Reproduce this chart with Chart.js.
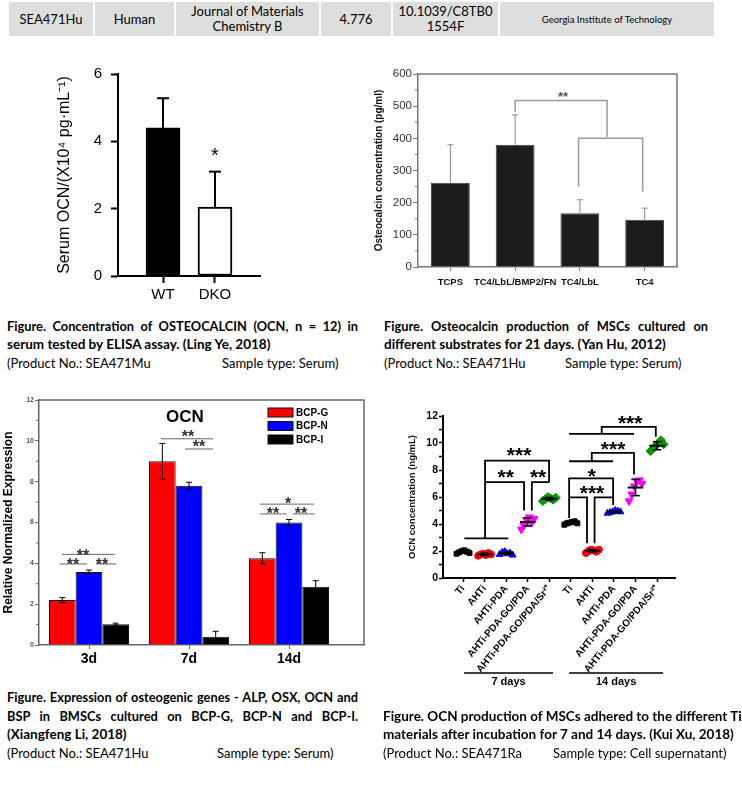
<!DOCTYPE html>
<html>
<head>
<meta charset="utf-8">
<script src="https://cdn.jsdelivr.net/npm/chart.js@4.4.0/dist/chart.umd.min.js"></script>
<style>
  body { margin: 0; width: 742px; height: 788px; position: relative; background: #fff; overflow: hidden; font-family: Lato, "Open Sans", sans-serif; color: #000; }
  .tbl { position: absolute; left: 9px; top: 2px; height: 34px; display: flex; }
  .tbl div { background: #dedede; margin-right: 2px; display: flex; align-items: center; justify-content: center; text-align: center; font-size: 13px; line-height: 15px; }
  .box { position: absolute; }
  .cap { position: absolute; font-size: 13px; line-height: 16px; white-space: nowrap; }
  .b { font-weight: bold; font-size: 13.5px; }
  .just { text-align: justify; text-align-last: justify; white-space: normal; font-size: 12.8px; height: 16px; }
</style>
</head>
<body>

<div class="tbl">
  <div style="width:84px">SEA471Hu</div>
  <div style="width:79px">Human</div>
  <div style="width:143px">Journal of Materials<br>Chemistry B</div>
  <div style="width:70px">4.776</div>
  <div style="width:105px">10.1039/C8TB0<br>1554F</div>
  <div style="width:214px;font-size:9.5px">Georgia Institute of Technology</div>
</div>

<div class="box" style="left:0;top:50px"><canvas id="c1" width="370" height="260"></canvas></div>
<div class="box" style="left:370px;top:50px"><canvas id="c2" width="372" height="260"></canvas></div>
<div class="box" style="left:0;top:390px"><canvas id="c3" width="370" height="280"></canvas></div>
<div class="box" style="left:370px;top:390px"><canvas id="c4" width="372" height="330"></canvas></div>

<div class="cap b just" style="left:7px;top:318px;width:351px">Figure. Concentration of OSTEOCALCIN (OCN, n = 12) in</div>
<div class="cap b" style="left:7px;top:336px">serum tested by ELISA assay. (Ling Ye, 2018)</div>
<div class="cap" style="left:7px;top:355px">(Product No.: SEA471Mu</div>
<div class="cap" style="left:222px;top:355px">Sample type: Serum)</div>

<div class="cap b just" style="left:384px;top:318px;width:324px">Figure. Osteocalcin production of MSCs cultured on</div>
<div class="cap b" style="left:384px;top:336px">different substrates for 21 days. (Yan Hu, 2012)</div>
<div class="cap" style="left:384px;top:355px">(Product No.: SEA471Hu</div>
<div class="cap" style="left:565px;top:355px">Sample type: Serum)</div>

<div class="cap b just" style="left:7px;top:689px;width:351px">Figure. Expression of osteogenic genes - ALP, OSX, OCN and</div>
<div class="cap b just" style="left:7px;top:708px;width:351px">BSP in BMSCs cultured on BCP-G, BCP-N and BCP-I.</div>
<div class="cap b" style="left:7px;top:726px">(Xiangfeng Li, 2018)</div>
<div class="cap" style="left:7px;top:745px">(Product No.: SEA471Hu</div>
<div class="cap" style="left:217px;top:745px">Sample type: Serum)</div>

<div class="cap b" style="left:383px;top:708px">Figure. OCN production of MSCs adhered to the different Ti</div>
<div class="cap b" style="left:383px;top:726px">materials after incubation for 7 and 14 days. (Kui Xu, 2018)</div>
<div class="cap" style="left:383px;top:745px">(Product No.: SEA471Ra</div>
<div class="cap" style="left:553px;top:745px">Sample type: Cell supernatant)</div>

<script>
// ---- data: serum OCN (top left)
const serumGroups = ['WT', 'DKO'];
const serumOCN = [4.4, 2.05];
const serumSD = [0.88, 1.05];

// ---- data: osteocalcin on substrates (top right)
const substrates = ['TCPS', 'TC4/LbL/BMP2/FN', 'TC4/LbL', 'TC4'];
const osteocalcin = [262, 380, 167, 147];
const osteocalcinSD = [118, 93, 42, 36];

// ---- data: OCN gene expression (bottom left)
const geneDays = ['3d', '7d', '14d'];
const bcpG = [2.2, 9.0, 4.25];
const bcpGSD = [0.12, 0.87, 0.27];
const bcpN = [3.57, 7.8, 6.0];
const bcpNSD = [0.1, 0.17, 0.15];
const bcpI = [1.02, 0.4, 2.85];
const bcpISD = [0.05, 0.27, 0.3];

// ---- data: OCN production on Ti materials (bottom right)
const tiMaterials = ['Ti', 'AHTi', 'AHTi-PDA', 'AHTi-PDA-GO/PDA', 'AHTi-PDA-GO/PDA/Sr²⁺'];
const tiLabels = tiMaterials.concat(tiMaterials);
const ocn7 = [
  [1.8, 1.9, 2.0, 2.05, 1.95, 1.85],
  [1.65, 1.75, 1.8, 1.7, 1.85, 1.75],
  [1.75, 1.9, 1.95, 1.8, 1.85, 1.7],
  [3.6, 3.9, 4.3, 4.5, 4.1, 4.4],
  [5.7, 5.85, 6.0, 5.9, 5.8, 5.95]
];
const ocn14 = [
  [3.95, 4.05, 4.1, 4.15, 4.2, 4.05],
  [1.85, 2.0, 2.1, 2.05, 1.95, 2.1],
  [4.8, 4.85, 4.9, 5.0, 4.95, 4.9],
  [5.7, 6.2, 6.8, 7.2, 7.25, 7.0],
  [9.4, 9.6, 9.8, 10.0, 10.2, 9.9]
];
const ocnMean = [1.93, 1.75, 1.83, 4.15, 5.87, 4.1, 2.02, 4.9, 6.7, 9.8];
const ocnSD = [0.1, 0.08, 0.09, 0.3, 0.1, 0.08, 0.09, 0.06, 0.6, 0.3];

// significance brackets, in axis units
const osteoBrackets = [
  [[1, 482], [1, 518], [2.42, 518], [2.42, 404]],
  [[1.98, 250], [1.98, 400], [2.97, 400], [2.97, 235]]
];
const geneLines = [
  [[-0.27, 4.44], [0.26, 4.44]], [[-0.29, 3.97], [-0.02, 3.97]], [[0.07, 3.97], [0.27, 3.97]],
  [[0.72, 10.1], [1.24, 10.1]], [[0.96, 9.6], [1.24, 9.6]],
  [[1.71, 6.9], [2.25, 6.9]], [[1.71, 6.42], [1.98, 6.42]], [[2.04, 6.42], [2.26, 6.42]]
];
const geneStars = [
  ['**', -0.06, 4.57], ['**', -0.16, 4.13], ['**', 0.13, 4.13],
  ['**', 0.99, 10.37], ['**', 1.1, 9.88],
  ['*', 1.99, 7.1], ['**', 1.84, 6.61], ['**', 2.12, 6.61]
];
const tiBrackets = [
  [[1.06, 2.93], [3.1, 2.93]],
  [[2.02, 2.93], [2.02, 8.7], [4.99, 8.7], [4.99, 7.1]],
  [[2.02, 7.1], [3.83, 7.1], [3.83, 5.0]],
  [[4.19, 5.0], [4.19, 7.1], [4.99, 7.1]],
  [[5.92, 10.67], [8.93, 10.67]],
  [[7.43, 10.67], [7.43, 11.2], [9.94, 11.2], [9.94, 10.47]],
  [[5.92, 8.65], [7.96, 8.65]],
  [[6.97, 8.65], [6.97, 9.27], [8.93, 9.27], [8.93, 7.67]],
  [[5.92, 4.45], [5.92, 7.38], [7.96, 7.38], [7.96, 5.4]],
  [[5.92, 5.97], [6.75, 5.97], [6.75, 2.58]],
  [[7.1, 2.58], [7.1, 5.97], [7.96, 5.97]]
];
const tiStars = [
  ['***', 3.6, 9.45], ['**', 2.98, 7.85], ['**', 4.48, 7.85],
  ['***', 8.75, 11.85], ['***', 7.96, 9.93], ['*', 6.97, 7.95], ['***', 6.98, 6.63]
];
const tiPeriods = [['7 days', 1.05, 5.17], ['14 days', 5.92, 10.28]];

const FONT = '"Liberation Sans", Arial, sans-serif';
Chart.defaults.font.family = FONT;
Chart.defaults.color = '#000';
Chart.defaults.animation = false;
Chart.defaults.events = [];
Chart.defaults.plugins.legend.display = false;
Chart.defaults.plugins.tooltip.enabled = false;

function line(ctx, pts, color, width) {
  ctx.save();
  ctx.beginPath();
  ctx.strokeStyle = color;
  ctx.lineWidth = width;
  pts.forEach((p, i) => i ? ctx.lineTo(p[0], p[1]) : ctx.moveTo(p[0], p[1]));
  ctx.stroke();
  ctx.restore();
}

// y = where the middle of the asterisk glyph should sit
function stars(ctx, text, x, y, size, color, weight) {
  ctx.save();
  ctx.font = `${weight} ${size}px ${FONT}`;
  ctx.fillStyle = color;
  ctx.textAlign = 'center';
  ctx.textBaseline = 'alphabetic';
  ctx.fillText(text, x, y + 0.57 * size);
  ctx.restore();
}

function paths(chart, list, color, width) {
  const { x, y } = chart.scales;
  list.forEach(p => line(chart.ctx, p.map(([a, b]) => [x.getPixelForValue(a), y.getPixelForValue(b)]), color, width));
}

function minorTicks(chart, from, to, step, len, color, width) {
  const y = chart.scales.y, left = chart.chartArea.left;
  for (let v = from; v < to; v += step) {
    const py = y.getPixelForValue(v);
    line(chart.ctx, [[left - len, py], [left, py]], color, width);
  }
}

function frame(chart, color, width) {
  const a = chart.chartArea;
  line(chart.ctx, [[a.left, a.top], [a.right, a.top], [a.right, a.bottom]], color, width);
}

// error bars from dataset.errors
Chart.register({
  id: 'errorBars',
  afterDatasetsDraw(chart, args, opts) {
    if (!opts || !opts.color) return;
    const ys = chart.scales.y;
    chart.data.datasets.forEach((ds, i) => {
      if (!ds.errors) return;
      chart.getDatasetMeta(i).data.forEach((bar, j) => {
        const e = ds.errors[j];
        const raw = ds.data[j];
        const v = typeof raw === 'object' ? raw.y : raw;
        const top = ys.getPixelForValue(v + e);
        const bot = opts.upOnly ? bar.y : ys.getPixelForValue(v - e);
        line(chart.ctx, [[bar.x, bot], [bar.x, top]], opts.color, opts.width);
        line(chart.ctx, [[bar.x - opts.cap, top], [bar.x + opts.cap, top]], opts.color, opts.width);
        if (!opts.upOnly) line(chart.ctx, [[bar.x - opts.cap, bot], [bar.x + opts.cap, bot]], opts.color, opts.width);
      });
    });
  }
});

const noGrid = (len, color, width) => ({ drawOnChartArea: false, offset: false, tickLength: len, tickColor: color, tickWidth: width });

// ---------- chart 1
new Chart(document.getElementById('c1'), {
  type: 'bar',
  data: {
    datasets: [{
      data: serumOCN.map((v, i) => ({ x: i, y: v })),
      backgroundColor: ['#000', '#fff'], borderColor: '#000', borderWidth: 2, borderSkipped: false,
      barThickness: 34, errors: serumSD
    }]
  },
  options: {
    responsive: false,
    layout: { padding: { left: 0, top: 24, right: 110, bottom: 0 } },
    plugins: { errorBars: { color: '#000', width: 2, cap: 6, upOnly: true } },
    scales: {
      x: {
        type: 'linear', min: -0.866, max: 1.866, offset: false,
        afterBuildTicks: s => { s.ticks = serumGroups.map((_, i) => ({ value: i })); },
        afterFit: s => { s.height = 34; },
        ticks: { callback: v => serumGroups[v], font: { size: 15 }, color: '#000', padding: 3, maxRotation: 0 },
        grid: noGrid(7, '#000', 2), border: { color: '#000', width: 2 }
      },
      y: {
        min: 0, max: 6,
        afterFit: s => { s.width = 118; },
        ticks: { stepSize: 2, font: { size: 15 }, color: '#000', padding: 9 },
        grid: noGrid(7, '#000', 2), border: { color: '#000', width: 2 },
        title: { display: true, text: 'Serum OCN/(X10⁴ pg·mL⁻¹)', font: { size: 16 }, color: '#000', padding: { top: 55, bottom: 0 } }
      }
    }
  },
  plugins: [{
    id: 'sig1',
    afterDatasetsDraw(c) {
      stars(c.ctx, '*', c.scales.x.getPixelForValue(1), c.scales.y.getPixelForValue(3.72), 20, '#000', 'normal');
    }
  }]
});

// ---------- chart 2
new Chart(document.getElementById('c2'), {
  type: 'bar',
  data: {
    labels: substrates,
    datasets: [{
      data: osteocalcin, backgroundColor: '#1c1c1c', borderColor: '#444', borderWidth: 1,
      barPercentage: 0.6, categoryPercentage: 1, errors: osteocalcinSD
    }]
  },
  options: {
    responsive: false,
    layout: { padding: { left: 0, top: 24, right: 65, bottom: 0 } },
    plugins: { errorBars: { color: '#888', width: 1, cap: 3, upOnly: true } },
    scales: {
      x: {
        afterFit: s => { s.height = 43; },
        ticks: { font: { size: 9.5, weight: 'bold' }, color: '#111', padding: 6, maxRotation: 0, autoSkip: false },
        grid: noGrid(4, '#777', 1), border: { color: '#777', width: 1.5 }
      },
      y: {
        min: 0, max: 600,
        afterFit: s => { s.width = 48; },
        ticks: { stepSize: 100, font: { size: 11.5 }, color: '#333', padding: 1 },
        grid: noGrid(5, '#777', 1), border: { color: '#777', width: 1.5 },
        title: { display: true, text: 'Osteocalcin concentration (pg/ml)', font: { size: 10, weight: 'bold' }, color: '#111', padding: { top: 3, bottom: 0 } }
      }
    }
  },
  plugins: [{
    id: 'sig2',
    afterDatasetsDraw(c) {
      frame(c, '#777', 1.5);
      minorTicks(c, 50, 600, 100, 3, '#777', 1);
      paths(c, osteoBrackets, '#999', 1.5);
      stars(c.ctx, '**', c.scales.x.getPixelForValue(1.74), c.scales.y.getPixelForValue(538), 13, '#555', 'bold');
    }
  }]
});

// ---------- chart 3
const geneSeries = [['BCP-G', bcpG, bcpGSD, '#ff0000'], ['BCP-N', bcpN, bcpNSD, '#0000ff'], ['BCP-I', bcpI, bcpISD, '#000000']];
new Chart(document.getElementById('c3'), {
  type: 'bar',
  data: {
    datasets: geneSeries.map(([label, vals, sd, color]) => ({
      label, data: vals.map((v, i) => ({ x: i, y: v })), errors: sd,
      backgroundColor: color, borderColor: '#111', borderWidth: 1,
      barPercentage: 1, categoryPercentage: 0.8
    }))
  },
  options: {
    responsive: false,
    layout: { padding: { left: 0, top: 10, right: 6, bottom: 0 } },
    plugins: { errorBars: { color: '#000', width: 1, cap: 3, upOnly: false } },
    scales: {
      x: {
        type: 'linear', min: -0.5, max: 2.75, offset: false,
        afterBuildTicks: s => { s.ticks = geneDays.map((_, i) => ({ value: i })); },
        afterFit: s => { s.height = 25; },
        ticks: { callback: v => geneDays[v], font: { size: 14, weight: 'bold' }, color: '#000', padding: 2, maxRotation: 0 },
        grid: noGrid(4, '#666', 1), border: { color: '#666', width: 1.5 }
      },
      y: {
        min: 0, max: 12,
        afterFit: s => { s.width = 39; },
        ticks: { stepSize: 2, font: { size: 7, weight: 'bold' }, color: '#555', padding: 1 },
        grid: noGrid(4, '#666', 1), border: { color: '#666', width: 1.5 },
        title: { display: true, text: 'Relative Normalized Expression', font: { size: 12, weight: 'bold' }, color: '#000', padding: { top: 1, bottom: 0 } }
      }
    }
  },
  plugins: [{
    id: 'sig3',
    afterDatasetsDraw(c) {
      const ctx = c.ctx, a = c.chartArea;
      frame(c, '#666', 1.5);
      minorTicks(c, 1, 12, 2, 3, '#666', 1);
      paths(c, geneLines, '#666', 1);
      geneStars.forEach(([t, x, y]) => stars(ctx, t, c.scales.x.getPixelForValue(x), c.scales.y.getPixelForValue(y), 16, '#333', 'bold'));
      // title
      ctx.save();
      ctx.font = `bold 17px ${FONT}`;
      ctx.fillStyle = '#000';
      ctx.textAlign = 'center';
      ctx.textBaseline = 'middle';
      ctx.fillText('OCN', 185, 27);
      // legend
      c.data.datasets.forEach((ds, i) => {
        const bx = a.right - 96, by = a.top + 8 + i * 13.5;
        ctx.fillStyle = ds.backgroundColor;
        ctx.fillRect(bx, by, 25, 9);
        ctx.strokeStyle = '#111';
        ctx.lineWidth = 1;
        ctx.strokeRect(bx, by, 25, 9);
        ctx.fillStyle = '#000';
        ctx.font = `bold 10px ${FONT}`;
        ctx.textAlign = 'left';
        ctx.fillText(ds.label, bx + 28, by + 5);
      });
      ctx.restore();
    }
  }]
});

// ---------- chart 4
const tiStyles = [
  ['#000000', 'rect', 3.5, 0],
  ['#ff0000', 'circle', 3.5, 0],
  ['#0000ff', 'triangle', 4, 0],
  ['#ff00ff', 'triangle', 4.5, 180],
  ['#009900', 'rectRot', 4.5, 0]
];
const jitter = [-0.3, -0.18, -0.06, 0.06, 0.18, 0.3];
new Chart(document.getElementById('c4'), {
  type: 'scatter',
  data: {
    datasets: tiMaterials.map((name, m) => ({
      label: name,
      data: ocn7[m].map((v, j) => ({ x: m + 1 + jitter[j], y: v }))
        .concat(ocn14[m].map((v, j) => ({ x: m + 6 + jitter[j], y: v }))),
      backgroundColor: tiStyles[m][0], borderColor: tiStyles[m][0],
      pointStyle: tiStyles[m][1], pointRadius: tiStyles[m][2], pointRotation: tiStyles[m][3]
    }))
  },
  options: {
    responsive: false,
    layout: { padding: { left: 0, top: 26, right: 67, bottom: 0 } },
    scales: {
      x: {
        type: 'linear', min: 0.07, max: 10.83, offset: false,
        afterBuildTicks: s => { s.ticks = tiLabels.map((_, i) => ({ value: i + 1 })); },
        afterFit: s => { s.height = 142; },
        ticks: { callback: v => tiLabels[v - 1], font: { size: 10, weight: 'bold' }, color: '#000', padding: 1, minRotation: 50, maxRotation: 50, autoSkip: false },
        grid: noGrid(4, '#000', 1.5), border: { color: '#000', width: 2 }
      },
      y: {
        min: 0, max: 12,
        afterFit: s => { s.width = 73; },
        ticks: { stepSize: 1, callback: v => v % 2 === 0 ? v : '', font: { size: 10.5, weight: 'bold' }, color: '#000', padding: 1, autoSkip: false },
        grid: noGrid(4, '#000', 1.5), border: { color: '#000', width: 2 },
        title: { display: true, text: 'OCN concentration (ng/mL)', font: { size: 9.5, weight: 'bold' }, color: '#111', padding: { top: 37, bottom: 0 } }
      }
    }
  },
  plugins: [{
    id: 'sig4',
    afterDatasetsDraw(c) {
      const ctx = c.ctx, xs = c.scales.x, ys = c.scales.y, a = c.chartArea;
      ocnMean.forEach((m, g) => {
        const x = g + 1;
        const px = xs.getPixelForValue(x);
        line(ctx, [[xs.getPixelForValue(x - 0.36), ys.getPixelForValue(m)], [xs.getPixelForValue(x + 0.36), ys.getPixelForValue(m)]], '#000', 2);
        const t = ys.getPixelForValue(m + ocnSD[g]), b = ys.getPixelForValue(m - ocnSD[g]);
        const cw = xs.getPixelForValue(x + 0.2) - px;
        line(ctx, [[px, t], [px, b]], '#000', 1.5);
        line(ctx, [[px - cw, t], [px + cw, t]], '#000', 1.5);
        line(ctx, [[px - cw, b], [px + cw, b]], '#000', 1.5);
      });
      paths(c, tiBrackets, '#000', 1.8);
      tiStars.forEach(([t, x, y]) => stars(ctx, t, xs.getPixelForValue(x), ys.getPixelForValue(y), 21, '#000', 'bold'));
      ctx.save();
      ctx.font = `bold 11px ${FONT}`;
      ctx.fillStyle = '#000';
      ctx.textAlign = 'center';
      ctx.textBaseline = 'middle';
      tiPeriods.forEach(([t, x0, x1]) => {
        const l = xs.getPixelForValue(x0), r = xs.getPixelForValue(x1);
        line(ctx, [[l, a.bottom + 95], [r, a.bottom + 95]], '#000', 1.5);
        ctx.fillText(t, (l + r) / 2, a.bottom + 104);
      });
      ctx.restore();
    }
  }]
});
</script>
</body>
</html>
